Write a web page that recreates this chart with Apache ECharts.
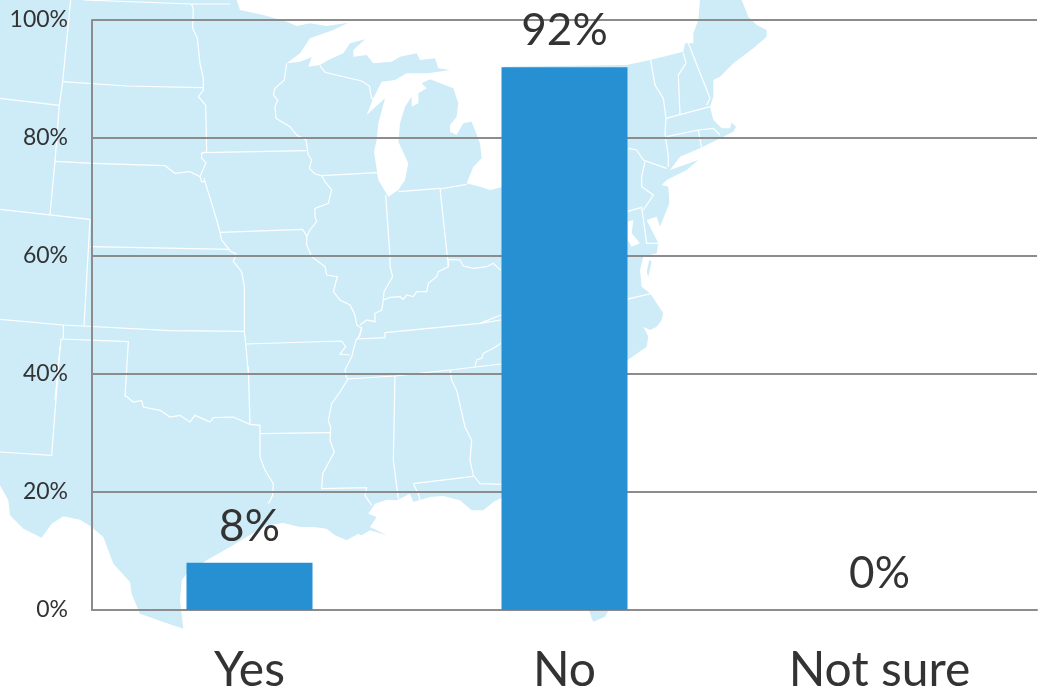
<!DOCTYPE html>
<html lang="en">

<head>
  <meta charset="UTF-8">
  <title>Yes / No / Not sure</title>
  <style>
    html, body { margin: 0; background: #fff; }
    #main { width: 1041px; height: 694px; }
  </style>
</head>

<body>
  <div id="main"></div>
</body>
<script src="https://cdn.jsdelivr.net/npm/echarts@6/dist/echarts.min.js"></script>
<script>
  var categories = ['Yes', 'No', 'Not sure']
  var values = [8, 92, 0]

  var fontName = 'Lato'
  var textColor = '#333333'
  var gridColor = '#8c8c8c'
  var landColor = '#cdecf8'

  // backdrop map only, traced by hand from zoomed crops of the picture.
  // each helper turns crop coordinates back to page pixels
  function crop(ox, oy, pts) {
    var out = []
    for (var i = 0; i < pts.length; i += 2) out.push([pts[i] / 3 + ox, pts[i + 1] / 3 + oy])
    return out
  }
  var z1 = function (p) { return crop(0, 0, p) }
  var z2 = function (p) { return crop(0, 347, p) }
  var z3 = function (p) { return crop(500, 0, p) }
  var z4 = function (p) { return crop(560, 260, p) }
  var z6 = function (p) { return crop(0, 290, p) }

  var coast = [[0, 0]].concat(
    z1([710,0, 720,30, 790,45, 860,65, 890,78, 930,70, 980,78, 1045,68, 1000,90, 930,115, 900,160, 860,190,
      900,185, 935,172, 925,200, 960,195, 985,180, 1030,160, 1050,130, 1095,118, 1060,150, 1060,170, 1100,165,
      1120,190, 1175,185, 1200,170, 1250,160, 1260,180, 1305,175, 1315,205, 1350,210, 1285,220, 1220,220,
      1185,240, 1145,245, 1120,295, 1100,345, 1155,295, 1135,370, 1130,420, 1122,455, 1135,540, 1165,590,
      1195,570, 1215,540, 1225,490, 1195,425, 1200,370, 1215,320, 1235,290, 1235,320, 1255,310, 1255,280,
      1280,265, 1265,250, 1290,238, 1360,265, 1375,310, 1370,350, 1350,375, 1350,395, 1370,405, 1390,370,
      1415,365, 1440,430, 1445,475, 1420,500, 1400,550, 1440,560, 1470,570, 1510,560, 1510,200]),
    z3([380,195, 450,180, 550,155, 555,130, 580,130, 580,100, 595,60, 600,0, 725,0, 745,50, 770,75, 800,90,
      800,110, 760,145, 720,175, 700,190, 660,230, 640,240, 640,290, 630,320, 640,360, 665,385, 690,385,
      695,368, 708,380, 700,395, 670,410, 650,420, 600,445, 540,470, 510,510, 595,480, 560,510, 500,540,
      485,555, 505,560, 508,610, 480,680, 470,650, 440,660, 475,730, 470,760, 430,770, 420,810, 425,860]),
    z4([245,80, 270,100, 310,160, 305,180, 290,200, 270,210, 250,200, 265,230, 260,260, 203,300, 190,310]),
    z2([1510,450, 1480,465, 1450,490, 1415,490, 1380,460, 1330,447, 1290,450, 1240,465, 1230,440, 1210,450,
      1190,460, 1160,458, 1125,470, 1105,500, 1130,510, 1110,540, 1160,565, 1110,550, 1085,565, 1075,560,
      1040,580, 1005,565, 980,545, 940,540, 900,540, 850,528, 800,535, 740,570, 690,600, 620,640, 560,680,
      545,700, 540,760, 550,845, 490,825, 420,800, 395,740, 390,705, 340,650, 310,570, 275,540, 240,518,
      190,508, 155,530, 125,572, 70,545, 30,505, 25,460, 0,415])
  )

  var floridaTip = crop(480, 590, [328,62, 385,62, 375,80, 340,95, 335,85])
  var outerBanks = z4([268,0, 275,5, 265,50, 260,35])
  var chesapeake = z3([383,665, 400,660, 395,700, 420,730, 395,740, 383,720])

  var stateLines = [
    z1([212,0, 188,245, 178,316, 165,484, 150,643]),
    z1([0,295, 178,316]),
    z1([188,245, 380,258, 610,263]),
    z1([250,0, 575,12, 690,12]),
    z1([575,12, 580,30, 578,85, 592,115, 600,190, 610,235, 610,270, 595,290, 617,315, 620,455]),
    z1([165,484, 280,490, 495,497, 525,520, 570,515, 600,530, 605,545, 615,545]),
    z1([620,455, 605,460, 605,475, 618,488, 600,530]),
    z1([605,458, 920,452]),
    z1([612,535, 635,610, 650,660, 660,697, 665,720, 690,752, 708,762, 700,785, 725,815, 733,860, 733,993]),
    z1([660,697, 908,688, 920,708]),
    z1([270,740, 690,748]),
    z1([270,658, 252,978]),
    z1([0,628, 270,658]),
    z1([860,190, 853,240, 825,265, 820,285, 833,300, 825,320, 828,355, 850,368, 870,380, 890,405, 918,420, 925,465, 935,480, 928,505, 945,522, 965,527]),
    z1([965,527, 1132,518]),
    z1([960,197, 975,217, 1085,243, 1108,258, 1115,295, 1125,300]),
    z1([965,527, 975,545, 995,570, 985,610, 945,625, 945,650, 950,665, 930,690, 920,710, 920,735, 935,770, 975,800, 980,825, 1012,830, 1000,875, 1020,900, 1050,915, 1065,945, 1070,975, 1085,985, 1075,1015]),
    z1([1157,585, 1170,770, 1170,800, 1178,830, 1152,875, 1150,900]),
    z1([1195,575, 1320,565]),
    z1([1320,567, 1400,553]),
    z1([1320,565, 1342,770, 1345,800]),
    z1([1150,900, 1170,892, 1200,890, 1210,898, 1220,885, 1240,890, 1250,875, 1280,875, 1285,850, 1310,830, 1315,815, 1345,800, 1345,778, 1380,780, 1390,798, 1420,805, 1460,800, 1480,790, 1490,800, 1503,810]),
    z1([1150,900, 1145,930, 1125,940, 1125,965, 1100,960, 1080,975]),
    z6([0,88, 190,105, 510,122, 733,124]),
    z6([190,105, 190,145]),
    z6([183,147, 385,155, 375,320]),
    z6([183,147, 165,330]),
    z2([180,0, 155,325, 0,315]),
    z6([733,124, 737,160, 745,250]),
    z6([737,162, 1025,153, 1037,170, 1020,192, 1050,195]),
    z6([1070,147, 1155,143, 1155,128, 1440,100, 1503,90]),
    z6([1440,100, 1503,75]),
    z6([1085,110, 1080,135, 1068,150, 1055,200, 1035,240, 1040,265]),
    z6([1040,267, 1185,258, 1350,240, 1503,222]),
    z6([1425,230, 1430,210, 1445,205, 1450,190, 1480,175, 1503,160]),
    z2([375,145, 400,165, 425,160, 430,180, 480,190, 510,210, 540,205, 570,225, 585,205, 630,225, 640,212, 700,210, 750,232, 780,235, 780,260, 780,330, 795,370, 820,410, 818,445, 805,470]),
    z2([745,60, 750,232]),
    z2([780,260, 990,257]),
    z2([1045,95, 1020,135, 995,170, 985,220, 992,240, 990,280, 1003,315, 968,380, 965,425, 1100,422, 1095,445, 1115,475]),
    z2([1185,87, 1180,340, 1195,455]),
    z2([1350,70, 1355,100, 1370,130, 1395,240, 1415,280, 1410,340, 1420,385, 1440,410, 1503,412]),
    z2([1240,410, 1420,388]),
    z2([1240,410, 1255,440, 1260,460]),
    z3([385,445, 410,450, 430,480, 500,505]),
    z3([452,180, 465,255, 490,295, 498,355, 495,400, 505,470, 505,500]),
    z3([550,158, 558,190, 535,225, 540,345]),
    z3([565,130, 630,295, 620,315]),
    z3([498,355, 630,320]),
    z3([500,410, 595,390, 640,385, 660,405]),
    z3([595,390, 605,445]),
    z3([435,485, 425,530, 425,560, 460,585, 430,630]),
    z3([380,635, 425,622, 440,730, 475,730]),
    z3([380,898, 455,880])
  ]

  var backdrop = [
    { type: 'polygon', z: -3, silent: true, shape: { points: coast }, style: { fill: landColor } },
    { type: 'polygon', z: -3, silent: true, shape: { points: floridaTip }, style: { fill: landColor } },
    { type: 'polygon', z: -3, silent: true, shape: { points: outerBanks }, style: { fill: landColor } },
    { type: 'polygon', z: -2, silent: true, shape: { points: chesapeake }, style: { fill: '#fff' } }
  ]
  stateLines.forEach(function (pts) {
    backdrop.push({
      type: 'polyline', z: -1, silent: true,
      shape: { points: pts },
      style: { stroke: '#fff', lineWidth: 1.2, fill: null }
    })
  })

  var chart = echarts.init(document.getElementById('main'))
  var option = {
    animation: false,
    backgroundColor: '#fff',
    graphic: backdrop,
    grid: { left: 92, right: 4, top: 20, bottom: 84, outerBoundsMode: 'none' },
    xAxis: {
      type: 'category',
      data: categories,
      axisTick: { show: false },
      axisLine: { lineStyle: { color: gridColor, width: 2 } },
      axisLabel: { color: textColor, fontFamily: fontName, fontSize: 48, margin: 37 }
    },
    yAxis: {
      type: 'value',
      min: 0,
      max: 100,
      interval: 20,
      axisLine: { show: true, lineStyle: { color: gridColor, width: 2 } },
      axisTick: { show: false },
      splitLine: { lineStyle: { color: gridColor, width: 2 } },
      axisLabel: { color: textColor, fontFamily: fontName, fontSize: 23, margin: 24, formatter: '{value}%' }
    },
    series: [
      {
        type: 'bar',
        data: values,
        barWidth: 126,
        itemStyle: { color: '#2790d2' },
        label: {
          show: true,
          position: 'top',
          distance: 14,
          formatter: '{c}%',
          color: textColor,
          fontFamily: fontName,
          fontSize: 44
        }
      }
    ]
  }
  chart.setOption(option)
</script>

</html>
